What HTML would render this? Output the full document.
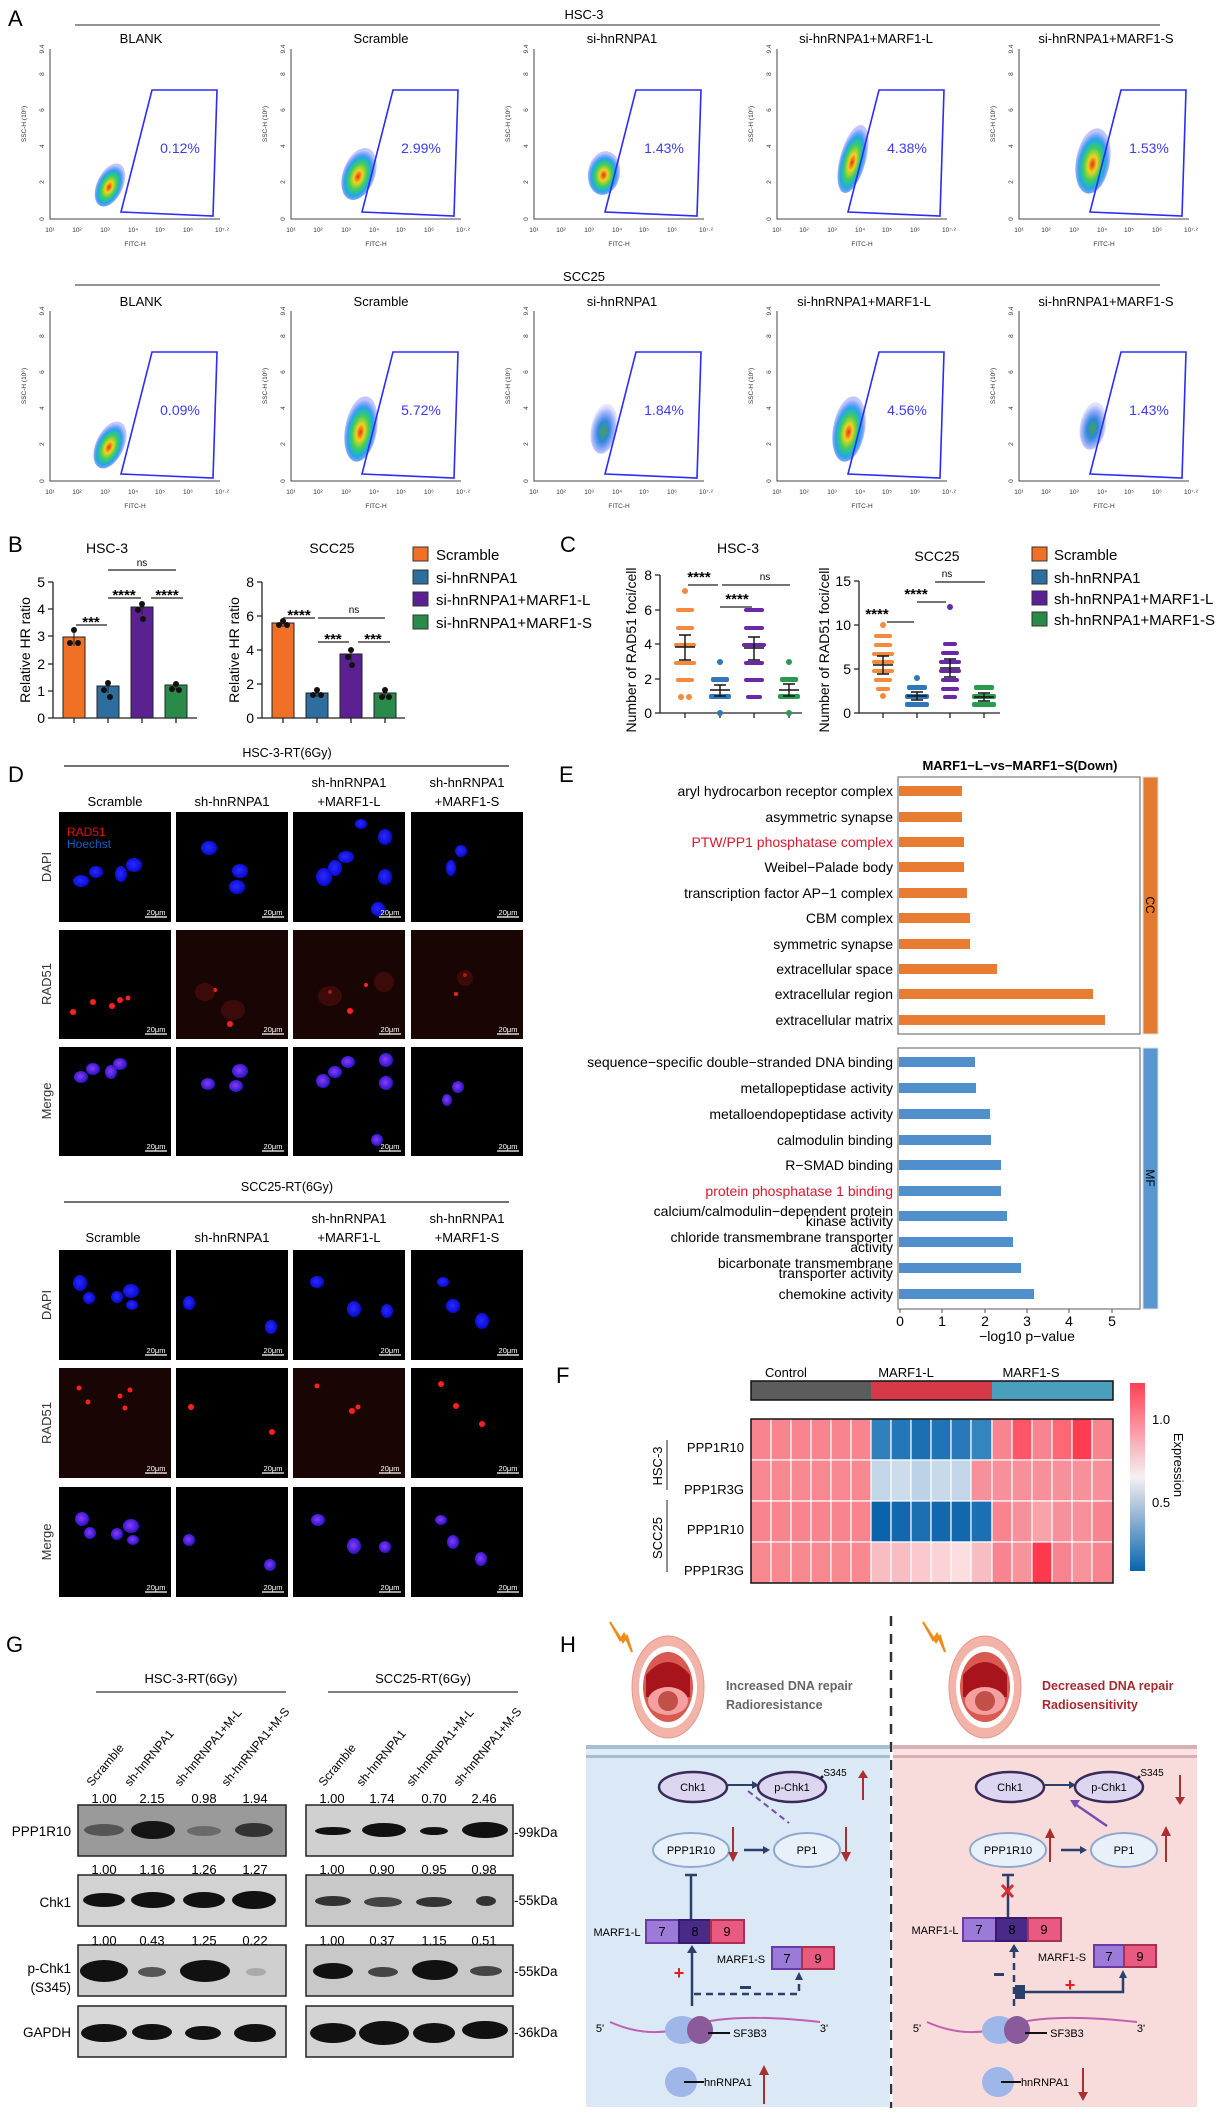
<!DOCTYPE html>
<html><head><meta charset="utf-8"><style>
html,body{margin:0;padding:0;background:#fff}
svg{display:block;font-family:"Liberation Sans",Arial,sans-serif}
</style></head><body>
<svg width="1223" height="2113" viewBox="0 0 1223 2113" xmlns="http://www.w3.org/2000/svg">
<defs>
<radialGradient id="blob" cx="50%" cy="55%" r="50%">
<stop offset="0" stop-color="#e8301c"/><stop offset=".25" stop-color="#f2d21c"/><stop offset=".5" stop-color="#3fcf5a"/><stop offset=".75" stop-color="#1fa8e8"/><stop offset="1" stop-color="#3040ff" stop-opacity=".3"/>
</radialGradient>
<radialGradient id="blobs" cx="50%" cy="55%" r="50%">
<stop offset="0" stop-color="#4aa04a"/><stop offset=".4" stop-color="#2a8ad8"/><stop offset="1" stop-color="#3040ff" stop-opacity=".15"/>
</radialGradient>
<linearGradient id="cbar" x1="0" y1="0" x2="0" y2="1"><stop offset="0" stop-color="#ff4055"/><stop offset=".5" stop-color="#f6f0f2"/><stop offset="1" stop-color="#0a64ac"/></linearGradient>
<radialGradient id="nuc" cx="45%" cy="45%" r="55%"><stop offset="0" stop-color="#2a2aff"/><stop offset="1" stop-color="#0a0ad0"/></radialGradient>
<radialGradient id="mer" cx="45%" cy="45%" r="55%"><stop offset="0" stop-color="#8a3cff"/><stop offset="1" stop-color="#2a14c0"/></radialGradient>
</defs>

<!-- ===== A ===== -->
<text x="8" y="26" font-size="22">A</text>
<text x="584" y="19" font-size="13" text-anchor="middle">HSC-3</text>
<line x1="75" y1="25" x2="1160" y2="25" stroke="#555" stroke-width="1.3"/>
<text x="584" y="281" font-size="13" text-anchor="middle">SCC25</text>
<line x1="75" y1="285" x2="1160" y2="285" stroke="#555" stroke-width="1.3"/>

<g font-size="13" text-anchor="middle">
<text x="141" y="43">BLANK</text><text x="381" y="43">Scramble</text><text x="622" y="43">si-hnRNPA1</text><text x="866" y="43">si-hnRNPA1+MARF1-L</text><text x="1106" y="43">si-hnRNPA1+MARF1-S</text>
<text x="141" y="306">BLANK</text><text x="381" y="306">Scramble</text><text x="622" y="306">si-hnRNPA1</text><text x="864" y="306">si-hnRNPA1+MARF1-L</text><text x="1106" y="306">si-hnRNPA1+MARF1-S</text>
</g>

<g transform="translate(50,219)">
<path d="M0,-170V0H170" stroke="#444" fill="none" stroke-width="1"/>
<g font-size="6.5" fill="#333"><text transform="translate(-6,0) rotate(-90)" text-anchor="middle">0</text><text transform="translate(-6,-37) rotate(-90)" text-anchor="middle">2</text><text transform="translate(-6,-73) rotate(-90)" text-anchor="middle">4</text><text transform="translate(-6,-109) rotate(-90)" text-anchor="middle">6</text><text transform="translate(-6,-145) rotate(-90)" text-anchor="middle">8</text><text transform="translate(-6,-170) rotate(-90)" text-anchor="middle">9.4</text>
<text transform="translate(-24,-95) rotate(-90)" text-anchor="middle">SSC-H (10⁶)</text>
<text x="0" y="13" text-anchor="middle">10¹</text><text x="27" y="13" text-anchor="middle">10²</text><text x="55" y="13" text-anchor="middle">10³</text><text x="83" y="13" text-anchor="middle">10⁴</text><text x="110" y="13" text-anchor="middle">10⁵</text><text x="138" y="13" text-anchor="middle">10⁶</text><text x="172" y="13" text-anchor="middle">10⁷·²</text>
<text x="85" y="27" text-anchor="middle">FITC-H</text></g>
<g transform="translate(60,-34) rotate(25)"><ellipse rx="13" ry="23" fill="url(#blob)"/></g>
<path d="M102,-129H167L163,-3L71,-7Z" fill="none" stroke="#2b2bff" stroke-width="1.6"/>
<text x="130" y="-66" font-size="14" fill="#3b3bff" text-anchor="middle">0.12%</text>
</g>

<g transform="translate(291,219)">
<path d="M0,-170V0H170" stroke="#444" fill="none"/>
<g font-size="6.5" fill="#333"><text transform="translate(-6,0) rotate(-90)" text-anchor="middle">0</text><text transform="translate(-6,-37) rotate(-90)" text-anchor="middle">2</text><text transform="translate(-6,-73) rotate(-90)" text-anchor="middle">4</text><text transform="translate(-6,-109) rotate(-90)" text-anchor="middle">6</text><text transform="translate(-6,-145) rotate(-90)" text-anchor="middle">8</text><text transform="translate(-6,-170) rotate(-90)" text-anchor="middle">9.4</text>
<text transform="translate(-24,-95) rotate(-90)" text-anchor="middle">SSC-H (10⁶)</text>
<text x="0" y="13" text-anchor="middle">10¹</text><text x="27" y="13" text-anchor="middle">10²</text><text x="55" y="13" text-anchor="middle">10³</text><text x="83" y="13" text-anchor="middle">10⁴</text><text x="110" y="13" text-anchor="middle">10⁵</text><text x="138" y="13" text-anchor="middle">10⁶</text><text x="172" y="13" text-anchor="middle">10⁷·²</text>
<text x="85" y="27" text-anchor="middle">FITC-H</text></g>
<g transform="translate(68,-45) rotate(20)"><ellipse rx="16" ry="27" fill="url(#blob)"/></g>
<path d="M102,-129H167L163,-3L71,-7Z" fill="none" stroke="#2b2bff" stroke-width="1.6"/>
<text x="130" y="-66" font-size="14" fill="#3b3bff" text-anchor="middle">2.99%</text>
</g>

<g transform="translate(534,219)">
<path d="M0,-170V0H170" stroke="#444" fill="none"/>
<g font-size="6.5" fill="#333"><text transform="translate(-6,0) rotate(-90)" text-anchor="middle">0</text><text transform="translate(-6,-37) rotate(-90)" text-anchor="middle">2</text><text transform="translate(-6,-73) rotate(-90)" text-anchor="middle">4</text><text transform="translate(-6,-109) rotate(-90)" text-anchor="middle">6</text><text transform="translate(-6,-145) rotate(-90)" text-anchor="middle">8</text><text transform="translate(-6,-170) rotate(-90)" text-anchor="middle">9.4</text>
<text transform="translate(-24,-95) rotate(-90)" text-anchor="middle">SSC-H (10⁶)</text>
<text x="0" y="13" text-anchor="middle">10¹</text><text x="27" y="13" text-anchor="middle">10²</text><text x="55" y="13" text-anchor="middle">10³</text><text x="83" y="13" text-anchor="middle">10⁴</text><text x="110" y="13" text-anchor="middle">10⁵</text><text x="138" y="13" text-anchor="middle">10⁶</text><text x="172" y="13" text-anchor="middle">10⁷·²</text>
<text x="85" y="27" text-anchor="middle">FITC-H</text></g>
<g transform="translate(70,-46) rotate(10)"><ellipse rx="16" ry="22" fill="url(#blob)"/></g>
<path d="M102,-129H167L163,-3L71,-7Z" fill="none" stroke="#2b2bff" stroke-width="1.6"/>
<text x="130" y="-66" font-size="14" fill="#3b3bff" text-anchor="middle">1.43%</text>
</g>

<g transform="translate(777,219)">
<path d="M0,-170V0H170" stroke="#444" fill="none"/>
<g font-size="6.5" fill="#333"><text transform="translate(-6,0) rotate(-90)" text-anchor="middle">0</text><text transform="translate(-6,-37) rotate(-90)" text-anchor="middle">2</text><text transform="translate(-6,-73) rotate(-90)" text-anchor="middle">4</text><text transform="translate(-6,-109) rotate(-90)" text-anchor="middle">6</text><text transform="translate(-6,-145) rotate(-90)" text-anchor="middle">8</text><text transform="translate(-6,-170) rotate(-90)" text-anchor="middle">9.4</text>
<text transform="translate(-24,-95) rotate(-90)" text-anchor="middle">SSC-H (10⁶)</text>
<text x="0" y="13" text-anchor="middle">10¹</text><text x="27" y="13" text-anchor="middle">10²</text><text x="55" y="13" text-anchor="middle">10³</text><text x="83" y="13" text-anchor="middle">10⁴</text><text x="110" y="13" text-anchor="middle">10⁵</text><text x="138" y="13" text-anchor="middle">10⁶</text><text x="172" y="13" text-anchor="middle">10⁷·²</text>
<text x="85" y="27" text-anchor="middle">FITC-H</text></g>
<g transform="translate(76,-60) rotate(15)"><ellipse rx="13" ry="35" fill="url(#blob)"/></g>
<path d="M102,-129H167L163,-3L71,-7Z" fill="none" stroke="#2b2bff" stroke-width="1.6"/>
<text x="130" y="-66" font-size="14" fill="#3b3bff" text-anchor="middle">4.38%</text>
</g>

<g transform="translate(1019,219)">
<path d="M0,-170V0H170" stroke="#444" fill="none"/>
<g font-size="6.5" fill="#333"><text transform="translate(-6,0) rotate(-90)" text-anchor="middle">0</text><text transform="translate(-6,-37) rotate(-90)" text-anchor="middle">2</text><text transform="translate(-6,-73) rotate(-90)" text-anchor="middle">4</text><text transform="translate(-6,-109) rotate(-90)" text-anchor="middle">6</text><text transform="translate(-6,-145) rotate(-90)" text-anchor="middle">8</text><text transform="translate(-6,-170) rotate(-90)" text-anchor="middle">9.4</text>
<text transform="translate(-24,-95) rotate(-90)" text-anchor="middle">SSC-H (10⁶)</text>
<text x="0" y="13" text-anchor="middle">10¹</text><text x="27" y="13" text-anchor="middle">10²</text><text x="55" y="13" text-anchor="middle">10³</text><text x="83" y="13" text-anchor="middle">10⁴</text><text x="110" y="13" text-anchor="middle">10⁵</text><text x="138" y="13" text-anchor="middle">10⁶</text><text x="172" y="13" text-anchor="middle">10⁷·²</text>
<text x="85" y="27" text-anchor="middle">FITC-H</text></g>
<g transform="translate(74,-58) rotate(10)"><ellipse rx="17" ry="33" fill="url(#blob)"/></g>
<path d="M102,-129H167L163,-3L71,-7Z" fill="none" stroke="#2b2bff" stroke-width="1.6"/>
<text x="130" y="-66" font-size="14" fill="#3b3bff" text-anchor="middle">1.53%</text>
</g>

<g transform="translate(50,481)">
<path d="M0,-170V0H170" stroke="#444" fill="none"/>
<g font-size="6.5" fill="#333"><text transform="translate(-6,0) rotate(-90)" text-anchor="middle">0</text><text transform="translate(-6,-37) rotate(-90)" text-anchor="middle">2</text><text transform="translate(-6,-73) rotate(-90)" text-anchor="middle">4</text><text transform="translate(-6,-109) rotate(-90)" text-anchor="middle">6</text><text transform="translate(-6,-145) rotate(-90)" text-anchor="middle">8</text><text transform="translate(-6,-170) rotate(-90)" text-anchor="middle">9.4</text>
<text transform="translate(-24,-95) rotate(-90)" text-anchor="middle">SSC-H (10⁶)</text>
<text x="0" y="13" text-anchor="middle">10¹</text><text x="27" y="13" text-anchor="middle">10²</text><text x="55" y="13" text-anchor="middle">10³</text><text x="83" y="13" text-anchor="middle">10⁴</text><text x="110" y="13" text-anchor="middle">10⁵</text><text x="138" y="13" text-anchor="middle">10⁶</text><text x="172" y="13" text-anchor="middle">10⁷·²</text>
<text x="85" y="27" text-anchor="middle">FITC-H</text></g>
<g transform="translate(60,-36) rotate(25)"><ellipse rx="14" ry="25" fill="url(#blob)"/></g>
<path d="M102,-129H167L163,-3L71,-7Z" fill="none" stroke="#2b2bff" stroke-width="1.6"/>
<text x="130" y="-66" font-size="14" fill="#3b3bff" text-anchor="middle">0.09%</text>
</g>

<g transform="translate(291,481)">
<path d="M0,-170V0H170" stroke="#444" fill="none"/>
<g font-size="6.5" fill="#333"><text transform="translate(-6,0) rotate(-90)" text-anchor="middle">0</text><text transform="translate(-6,-37) rotate(-90)" text-anchor="middle">2</text><text transform="translate(-6,-73) rotate(-90)" text-anchor="middle">4</text><text transform="translate(-6,-109) rotate(-90)" text-anchor="middle">6</text><text transform="translate(-6,-145) rotate(-90)" text-anchor="middle">8</text><text transform="translate(-6,-170) rotate(-90)" text-anchor="middle">9.4</text>
<text transform="translate(-24,-95) rotate(-90)" text-anchor="middle">SSC-H (10⁶)</text>
<text x="0" y="13" text-anchor="middle">10¹</text><text x="27" y="13" text-anchor="middle">10²</text><text x="55" y="13" text-anchor="middle">10³</text><text x="83" y="13" text-anchor="middle">10⁴</text><text x="110" y="13" text-anchor="middle">10⁵</text><text x="138" y="13" text-anchor="middle">10⁶</text><text x="172" y="13" text-anchor="middle">10⁷·²</text>
<text x="85" y="27" text-anchor="middle">FITC-H</text></g>
<g transform="translate(70,-52) rotate(10)"><ellipse rx="16" ry="33" fill="url(#blob)"/></g>
<path d="M102,-129H167L163,-3L71,-7Z" fill="none" stroke="#2b2bff" stroke-width="1.6"/>
<text x="130" y="-66" font-size="14" fill="#3b3bff" text-anchor="middle">5.72%</text>
</g>

<g transform="translate(534,481)">
<path d="M0,-170V0H170" stroke="#444" fill="none"/>
<g font-size="6.5" fill="#333"><text transform="translate(-6,0) rotate(-90)" text-anchor="middle">0</text><text transform="translate(-6,-37) rotate(-90)" text-anchor="middle">2</text><text transform="translate(-6,-73) rotate(-90)" text-anchor="middle">4</text><text transform="translate(-6,-109) rotate(-90)" text-anchor="middle">6</text><text transform="translate(-6,-145) rotate(-90)" text-anchor="middle">8</text><text transform="translate(-6,-170) rotate(-90)" text-anchor="middle">9.4</text>
<text transform="translate(-24,-95) rotate(-90)" text-anchor="middle">SSC-H (10⁶)</text>
<text x="0" y="13" text-anchor="middle">10¹</text><text x="27" y="13" text-anchor="middle">10²</text><text x="55" y="13" text-anchor="middle">10³</text><text x="83" y="13" text-anchor="middle">10⁴</text><text x="110" y="13" text-anchor="middle">10⁵</text><text x="138" y="13" text-anchor="middle">10⁶</text><text x="172" y="13" text-anchor="middle">10⁷·²</text>
<text x="85" y="27" text-anchor="middle">FITC-H</text></g>
<g transform="translate(70,-52) rotate(10)"><ellipse rx="13" ry="25" fill="url(#blobs)"/></g>
<path d="M102,-129H167L163,-3L71,-7Z" fill="none" stroke="#2b2bff" stroke-width="1.6"/>
<text x="130" y="-66" font-size="14" fill="#3b3bff" text-anchor="middle">1.84%</text>
</g>

<g transform="translate(777,481)">
<path d="M0,-170V0H170" stroke="#444" fill="none"/>
<g font-size="6.5" fill="#333"><text transform="translate(-6,0) rotate(-90)" text-anchor="middle">0</text><text transform="translate(-6,-37) rotate(-90)" text-anchor="middle">2</text><text transform="translate(-6,-73) rotate(-90)" text-anchor="middle">4</text><text transform="translate(-6,-109) rotate(-90)" text-anchor="middle">6</text><text transform="translate(-6,-145) rotate(-90)" text-anchor="middle">8</text><text transform="translate(-6,-170) rotate(-90)" text-anchor="middle">9.4</text>
<text transform="translate(-24,-95) rotate(-90)" text-anchor="middle">SSC-H (10⁶)</text>
<text x="0" y="13" text-anchor="middle">10¹</text><text x="27" y="13" text-anchor="middle">10²</text><text x="55" y="13" text-anchor="middle">10³</text><text x="83" y="13" text-anchor="middle">10⁴</text><text x="110" y="13" text-anchor="middle">10⁵</text><text x="138" y="13" text-anchor="middle">10⁶</text><text x="172" y="13" text-anchor="middle">10⁷·²</text>
<text x="85" y="27" text-anchor="middle">FITC-H</text></g>
<g transform="translate(72,-52) rotate(10)"><ellipse rx="16" ry="33" fill="url(#blob)"/></g>
<path d="M102,-129H167L163,-3L71,-7Z" fill="none" stroke="#2b2bff" stroke-width="1.6"/>
<text x="130" y="-66" font-size="14" fill="#3b3bff" text-anchor="middle">4.56%</text>
</g>

<g transform="translate(1019,481)">
<path d="M0,-170V0H170" stroke="#444" fill="none"/>
<g font-size="6.5" fill="#333"><text transform="translate(-6,0) rotate(-90)" text-anchor="middle">0</text><text transform="translate(-6,-37) rotate(-90)" text-anchor="middle">2</text><text transform="translate(-6,-73) rotate(-90)" text-anchor="middle">4</text><text transform="translate(-6,-109) rotate(-90)" text-anchor="middle">6</text><text transform="translate(-6,-145) rotate(-90)" text-anchor="middle">8</text><text transform="translate(-6,-170) rotate(-90)" text-anchor="middle">9.4</text>
<text transform="translate(-24,-95) rotate(-90)" text-anchor="middle">SSC-H (10⁶)</text>
<text x="0" y="13" text-anchor="middle">10¹</text><text x="27" y="13" text-anchor="middle">10²</text><text x="55" y="13" text-anchor="middle">10³</text><text x="83" y="13" text-anchor="middle">10⁴</text><text x="110" y="13" text-anchor="middle">10⁵</text><text x="138" y="13" text-anchor="middle">10⁶</text><text x="172" y="13" text-anchor="middle">10⁷·²</text>
<text x="85" y="27" text-anchor="middle">FITC-H</text></g>
<g transform="translate(74,-55) rotate(10)"><ellipse rx="13" ry="24" fill="url(#blobs)"/></g>
<path d="M102,-129H167L163,-3L71,-7Z" fill="none" stroke="#2b2bff" stroke-width="1.6"/>
<text x="130" y="-66" font-size="14" fill="#3b3bff" text-anchor="middle">1.43%</text>
</g>

<!-- ===== B ===== -->
<text x="8" y="552" font-size="22">B</text>
<text x="107" y="553" font-size="14" text-anchor="middle">HSC-3</text>
<text x="332" y="553" font-size="14" text-anchor="middle">SCC25</text>
<g stroke="#222" stroke-width="1.3" fill="none">
<path d="M53,582V718H197"/><path d="M48,582H53M48,609H53M48,636H53M48,664H53M48,691H53M48,718H53"/>
<path d="M74,718V723M108,718V723M142,718V723M176,718V723"/>
<path d="M262,582V718H405"/><path d="M257,582H262M257,616H262M257,650H262M257,684H262M257,718H262"/>
<path d="M283,718V723M317,718V723M351,718V723M385,718V723"/>
</g>
<g font-size="14" text-anchor="end"><text x="45" y="723">0</text><text x="45" y="696">1</text><text x="45" y="669">2</text><text x="45" y="641">3</text><text x="45" y="614">4</text><text x="45" y="587">5</text>
<text x="254" y="723">0</text><text x="254" y="689">2</text><text x="254" y="655">4</text><text x="254" y="621">6</text><text x="254" y="587">8</text></g>
<text transform="translate(30,650) rotate(-90)" font-size="14" text-anchor="middle">Relative HR ratio</text>
<text transform="translate(239,650) rotate(-90)" font-size="14" text-anchor="middle">Relative HR ratio</text>
<g stroke="#222" stroke-width="1">
<rect x="63" y="637" width="22" height="81" fill="#f07025"/><rect x="97" y="686" width="22" height="32" fill="#2e6e9e"/><rect x="131" y="607" width="22" height="111" fill="#5b2091"/><rect x="165" y="685" width="22" height="33" fill="#2a8a4a"/>
<rect x="272" y="623" width="22" height="95" fill="#f07025"/><rect x="306" y="693" width="22" height="25" fill="#2e6e9e"/><rect x="340" y="654" width="22" height="64" fill="#5b2091"/><rect x="374" y="693" width="22" height="25" fill="#2a8a4a"/>
<path d="M74,628V646M108,681V693M142,602V614M176,682V690M283,620V627M317,689V697M351,648V661M385,690V697" fill="none"/>
</g>
<g fill="#111"><circle cx="74" cy="630" r="3"/><circle cx="70" cy="643" r="3"/><circle cx="78" cy="643" r="3"/><circle cx="108" cy="683" r="3"/><circle cx="104" cy="690" r="3"/><circle cx="110" cy="697" r="3"/><circle cx="142" cy="604" r="3"/><circle cx="138" cy="610" r="3"/><circle cx="143" cy="619" r="3"/><circle cx="176" cy="684" r="3"/><circle cx="172" cy="689" r="3"/><circle cx="179" cy="690" r="3"/>
<circle cx="283" cy="621" r="3"/><circle cx="279" cy="625" r="3"/><circle cx="287" cy="625" r="3"/><circle cx="317" cy="690" r="3"/><circle cx="313" cy="695" r="3"/><circle cx="321" cy="695" r="3"/><circle cx="351" cy="650" r="3"/><circle cx="348" cy="657" r="3"/><circle cx="352" cy="665" r="3"/><circle cx="385" cy="690" r="3"/><circle cx="382" cy="697" r="3"/><circle cx="389" cy="697" r="3"/></g>
<g stroke="#222" stroke-width="1.2"><line x1="76" y1="625" x2="107" y2="625"/><line x1="108" y1="598" x2="141" y2="598"/><line x1="151" y1="598" x2="183" y2="598"/><line x1="108" y1="570" x2="176" y2="570"/>
<line x1="283" y1="618" x2="315" y2="618"/><line x1="318" y1="618" x2="385" y2="618"/><line x1="318" y1="642" x2="349" y2="642"/><line x1="358" y1="642" x2="390" y2="642"/></g>
<g font-size="15" text-anchor="middle" font-weight="bold"><text x="91" y="627">***</text><text x="124" y="600">****</text><text x="167" y="600">****</text><text x="299" y="620">****</text><text x="333" y="644">***</text><text x="373" y="644">***</text></g>
<g font-size="10" text-anchor="middle"><text x="142" y="566">ns</text><text x="354" y="613">ns</text></g>
<g stroke="#333" stroke-width="1"><rect x="413" y="547" width="15" height="14" fill="#f07025"/><rect x="413" y="570" width="15" height="14" fill="#2e6e9e"/><rect x="413" y="592" width="15" height="14" fill="#5b2091"/><rect x="413" y="615" width="15" height="14" fill="#2a8a4a"/></g>
<g font-size="15"><text x="436" y="560">Scramble</text><text x="436" y="583">si-hnRNPA1</text><text x="436" y="605">si-hnRNPA1+MARF1-L</text><text x="436" y="628">si-hnRNPA1+MARF1-S</text></g>

<!-- ===== C ===== -->
<text x="560" y="552" font-size="22">C</text>
<text x="738" y="553" font-size="14" text-anchor="middle">HSC-3</text>
<text x="937" y="561" font-size="14" text-anchor="middle">SCC25</text>
<g stroke="#222" stroke-width="1.3" fill="none">
<path d="M660,575V713H802"/><path d="M655,575H660M655,610H660M655,644H660M655,679H660M655,713H660"/>
<path d="M685,713V718M720,713V718M754,713V718M789,713V718"/>
<path d="M859,581V713H1000"/><path d="M854,581H859M854,625H859M854,669H859M854,713H859"/>
<path d="M883,713V718M917,713V718M950,713V718M984,713V718"/>
</g>
<g font-size="14" text-anchor="end"><text x="652" y="718">0</text><text x="652" y="684">2</text><text x="652" y="649">4</text><text x="652" y="615">6</text><text x="652" y="580">8</text>
<text x="851" y="718">0</text><text x="851" y="674">5</text><text x="851" y="630">10</text><text x="851" y="586">15</text></g>
<text transform="translate(636,650) rotate(-90)" font-size="14" text-anchor="middle">Number of RAD51 foci/cell</text>
<text transform="translate(829,650) rotate(-90)" font-size="14" text-anchor="middle">Number of RAD51 foci/cell</text>
<g fill="#f58a3c"><rect x="676" y="608" width="18" height="4" rx="2"/><rect x="676" y="626" width="18" height="4" rx="2"/><rect x="674" y="643" width="22" height="4" rx="2"/><rect x="674" y="661" width="22" height="4" rx="2"/><rect x="676" y="678" width="18" height="4" rx="2"/><circle cx="681" cy="697" r="3"/><circle cx="689" cy="697" r="3"/><circle cx="685" cy="591" r="3"/></g>
<g fill="#2f78b8"><circle cx="720" cy="662" r="3"/><rect x="711" y="677" width="18" height="5" rx="2"/><rect x="709" y="694" width="22" height="5" rx="2"/><circle cx="720" cy="713" r="3"/></g>
<g fill="#6a2aa8"><rect x="744" y="608" width="20" height="4" rx="2"/><rect x="744" y="626" width="20" height="4" rx="2"/><rect x="742" y="643" width="24" height="4" rx="2"/><rect x="744" y="661" width="20" height="4" rx="2"/><rect x="744" y="678" width="20" height="4" rx="2"/><rect x="746" y="695" width="16" height="4" rx="2"/></g>
<g fill="#2a9a50"><circle cx="789" cy="662" r="3"/><rect x="780" y="677" width="18" height="5" rx="2"/><rect x="778" y="694" width="22" height="5" rx="2"/><circle cx="789" cy="713" r="3"/></g>
<g stroke="#111" stroke-width="1.4" fill="none"><path d="M675,647H695M679,635H691M679,660H691M685,635V660"/><path d="M710,690H730M714,685H726M714,696H726M720,685V696"/><path d="M744,648H764M748,637H760M748,660H760M754,637V660"/><path d="M779,690H799M783,684H795M783,696H795M789,684V696"/></g>
<g stroke="#222" stroke-width="1.2"><line x1="688" y1="585" x2="718" y2="585"/><line x1="722" y1="585" x2="790" y2="585"/><line x1="720" y1="607" x2="752" y2="607"/></g>
<g font-size="15" font-weight="bold" text-anchor="middle"><text x="699" y="582">****</text><text x="737" y="604">****</text></g>
<text x="765" y="580" font-size="10" text-anchor="middle">ns</text>
<g fill="#f58a3c"><circle cx="883" cy="625" r="3"/><rect x="874" y="634" width="18" height="4" rx="2"/><rect x="874" y="643" width="18" height="4" rx="2"/><rect x="872" y="652" width="22" height="4" rx="2"/><rect x="872" y="660" width="22" height="4" rx="2"/><rect x="872" y="669" width="22" height="4" rx="2"/><rect x="874" y="678" width="18" height="4" rx="2"/><rect x="876" y="687" width="14" height="4" rx="2"/><circle cx="883" cy="696" r="3"/></g>
<g fill="#2f78b8"><circle cx="917" cy="678" r="3"/><rect x="907" y="685" width="20" height="5" rx="2"/><rect x="905" y="694" width="24" height="5" rx="2"/><rect x="905" y="702" width="24" height="5" rx="2"/></g>
<g fill="#6a2aa8"><circle cx="950" cy="607" r="3"/><rect x="943" y="642" width="14" height="4" rx="2"/><rect x="941" y="651" width="18" height="4" rx="2"/><rect x="939" y="660" width="22" height="4" rx="2"/><rect x="939" y="669" width="22" height="4" rx="2"/><rect x="941" y="678" width="18" height="4" rx="2"/><rect x="941" y="687" width="18" height="4" rx="2"/><rect x="943" y="695" width="14" height="4" rx="2"/></g>
<g fill="#2a9a50"><rect x="974" y="685" width="20" height="5" rx="2"/><rect x="972" y="694" width="24" height="5" rx="2"/><rect x="972" y="702" width="24" height="5" rx="2"/></g>
<g stroke="#111" stroke-width="1.4" fill="none"><path d="M873,665H893M877,656H889M877,674H889M883,656V674"/><path d="M907,696H927M911,692H923M911,700H923M917,692V700"/><path d="M940,668H960M944,659H956M944,677H956M950,659V677"/><path d="M974,697H994M978,693H990M978,701H990M984,693V701"/></g>
<g stroke="#222" stroke-width="1.2"><line x1="887" y1="622" x2="914" y2="622"/><line x1="917" y1="602" x2="946" y2="602"/><line x1="935" y1="582" x2="985" y2="582"/></g>
<g font-size="15" font-weight="bold" text-anchor="middle"><text x="877" y="619">****</text><text x="916" y="599">****</text></g>
<text x="947" y="577" font-size="10" text-anchor="middle">ns</text>
<g stroke="#333"><rect x="1032" y="547" width="15" height="14" fill="#f07025"/><rect x="1032" y="570" width="15" height="14" fill="#2e6e9e"/><rect x="1032" y="591" width="15" height="14" fill="#5b2091"/><rect x="1032" y="612" width="15" height="14" fill="#2a8a4a"/></g>
<g font-size="15"><text x="1054" y="560">Scramble</text><text x="1054" y="583">sh-hnRNPA1</text><text x="1054" y="604">sh-hnRNPA1+MARF1-L</text><text x="1054" y="625">sh-hnRNPA1+MARF1-S</text></g>

<!-- ===== D ===== -->
<text x="8" y="782" font-size="22">D</text>
<text x="287" y="757" font-size="12.5" text-anchor="middle">HSC-3-RT(6Gy)</text>
<line x1="64" y1="766" x2="509" y2="766" stroke="#444" stroke-width="1.5"/>
<g font-size="13" text-anchor="middle"><text x="115" y="806">Scramble</text><text x="232" y="806">sh-hnRNPA1</text><text x="349" y="787">sh-hnRNPA1</text><text x="349" y="806">+MARF1-L</text><text x="467" y="787">sh-hnRNPA1</text><text x="467" y="806">+MARF1-S</text></g>
<g fill="#000"><rect x="59" y="812" width="112" height="110"/><rect x="176" y="812" width="112" height="110"/><rect x="293" y="812" width="112" height="110"/><rect x="411" y="812" width="112" height="110"/>
<rect x="59" y="930" width="112" height="109"/><rect x="176" y="930" width="112" height="109"/><rect x="293" y="930" width="112" height="109"/><rect x="411" y="930" width="112" height="109"/>
<rect x="59" y="1047" width="112" height="109"/><rect x="176" y="1047" width="112" height="109"/><rect x="293" y="1047" width="112" height="109"/><rect x="411" y="1047" width="112" height="109"/></g>
<g fill="#1a0505"><rect x="176" y="930" width="112" height="109"/><rect x="293" y="930" width="112" height="109"/><rect x="411" y="930" width="112" height="109"/></g>
<text x="67" y="836" font-size="12" fill="#e01010">RAD51</text><text x="67" y="848" font-size="12" fill="#1060c0">Hoechst</text>
<g font-size="13" text-anchor="middle" fill="#333"><text transform="translate(51,867) rotate(-90)">DAPI</text><text transform="translate(51,984) rotate(-90)">RAD51</text><text transform="translate(51,1101) rotate(-90)">Merge</text></g>
<g fill="url(#nuc)"><ellipse cx="81" cy="881" rx="8" ry="6"/><ellipse cx="96" cy="872" rx="7" ry="6"/><ellipse cx="121" cy="874" rx="6" ry="8"/><ellipse cx="134" cy="865" rx="8" ry="7"/>
<ellipse cx="209" cy="848" rx="8" ry="7"/><ellipse cx="240" cy="871" rx="8" ry="7"/><ellipse cx="237" cy="887" rx="8" ry="7"/>
<ellipse cx="324" cy="877" rx="8" ry="9"/><ellipse cx="335" cy="868" rx="7" ry="8"/><ellipse cx="346" cy="857" rx="8" ry="6"/><ellipse cx="385" cy="837" rx="7" ry="8"/><ellipse cx="385" cy="877" rx="7" ry="8"/><ellipse cx="378" cy="909" rx="7" ry="7"/><ellipse cx="361" cy="824" rx="6" ry="5"/>
<ellipse cx="461" cy="851" rx="6" ry="6"/><ellipse cx="451" cy="868" rx="5" ry="8"/></g>
<g fill="#ff2020"><circle cx="73" cy="1012" r="3"/><circle cx="93" cy="1002" r="3"/><circle cx="112" cy="1006" r="3"/><circle cx="120" cy="1000" r="3"/><circle cx="128" cy="998" r="2.5"/><circle cx="230" cy="1024" r="3"/><circle cx="215" cy="990" r="2"/><circle cx="350" cy="1011" r="3"/><circle cx="366" cy="985" r="2"/><circle cx="330" cy="992" r="2"/><circle cx="465" cy="975" r="2"/><circle cx="456" cy="994" r="2"/></g>
<g fill="#601010" opacity=".5"><ellipse cx="205" cy="992" rx="10" ry="9"/><ellipse cx="233" cy="1010" rx="12" ry="10"/><ellipse cx="330" cy="996" rx="12" ry="10"/><ellipse cx="384" cy="982" rx="10" ry="10"/><ellipse cx="465" cy="978" rx="8" ry="8"/></g>
<g fill="url(#mer)"><ellipse cx="81" cy="1077" rx="7" ry="6"/><ellipse cx="93" cy="1069" rx="7" ry="6"/><ellipse cx="111" cy="1072" rx="6" ry="7"/><ellipse cx="120" cy="1064" rx="7" ry="6"/>
<ellipse cx="208" cy="1084" rx="7" ry="6"/><ellipse cx="240" cy="1071" rx="8" ry="7"/><ellipse cx="236" cy="1086" rx="7" ry="6"/>
<ellipse cx="323" cy="1081" rx="7" ry="7"/><ellipse cx="335" cy="1072" rx="7" ry="6"/><ellipse cx="348" cy="1062" rx="7" ry="6"/><ellipse cx="386" cy="1060" rx="7" ry="7"/><ellipse cx="386" cy="1083" rx="7" ry="7"/><ellipse cx="377" cy="1140" rx="6" ry="6"/>
<ellipse cx="458" cy="1087" rx="6" ry="6"/><ellipse cx="447" cy="1100" rx="5" ry="6"/></g>

<text x="287" y="1191" font-size="12.5" text-anchor="middle">SCC25-RT(6Gy)</text>
<line x1="64" y1="1202" x2="509" y2="1202" stroke="#444" stroke-width="1.5"/>
<g font-size="13" text-anchor="middle"><text x="113" y="1242">Scramble</text><text x="232" y="1242">sh-hnRNPA1</text><text x="349" y="1223">sh-hnRNPA1</text><text x="349" y="1242">+MARF1-L</text><text x="467" y="1223">sh-hnRNPA1</text><text x="467" y="1242">+MARF1-S</text></g>
<g fill="#000"><rect x="59" y="1250" width="112" height="110"/><rect x="176" y="1250" width="112" height="110"/><rect x="293" y="1250" width="112" height="110"/><rect x="411" y="1250" width="112" height="110"/>
<rect x="59" y="1368" width="112" height="110"/><rect x="176" y="1368" width="112" height="110"/><rect x="293" y="1368" width="112" height="110"/><rect x="411" y="1368" width="112" height="110"/>
<rect x="59" y="1487" width="112" height="110"/><rect x="176" y="1487" width="112" height="110"/><rect x="293" y="1487" width="112" height="110"/><rect x="411" y="1487" width="112" height="110"/></g>
<g fill="#1a0505"><rect x="59" y="1368" width="112" height="110"/><rect x="293" y="1368" width="112" height="110"/></g>
<g font-size="13" text-anchor="middle" fill="#333"><text transform="translate(51,1305) rotate(-90)">DAPI</text><text transform="translate(51,1423) rotate(-90)">RAD51</text><text transform="translate(51,1542) rotate(-90)">Merge</text></g>
<g fill="url(#nuc)"><ellipse cx="80" cy="1283" rx="7" ry="8"/><ellipse cx="89" cy="1298" rx="6" ry="6"/><ellipse cx="117" cy="1297" rx="6" ry="6"/><ellipse cx="131" cy="1291" rx="8" ry="7"/><ellipse cx="132" cy="1305" rx="6" ry="5"/>
<ellipse cx="189" cy="1303" rx="6" ry="7"/><ellipse cx="271" cy="1327" rx="6" ry="7"/>
<ellipse cx="317" cy="1282" rx="7" ry="6"/><ellipse cx="354" cy="1309" rx="7" ry="8"/><ellipse cx="387" cy="1311" rx="6" ry="7"/>
<ellipse cx="443" cy="1282" rx="6" ry="5"/><ellipse cx="453" cy="1306" rx="7" ry="7"/><ellipse cx="482" cy="1321" rx="7" ry="8"/></g>
<g fill="#ff2020"><circle cx="79" cy="1388" r="2.5"/><circle cx="88" cy="1402" r="2.5"/><circle cx="120" cy="1396" r="2.5"/><circle cx="130" cy="1390" r="2.5"/><circle cx="125" cy="1408" r="2.5"/><circle cx="191" cy="1407" r="3"/><circle cx="272" cy="1432" r="3"/><circle cx="317" cy="1386" r="2.5"/><circle cx="352" cy="1411" r="3"/><circle cx="358" cy="1407" r="2.5"/><circle cx="441" cy="1384" r="3"/><circle cx="456" cy="1406" r="3"/><circle cx="482" cy="1424" r="3"/></g>
<g fill="url(#mer)"><ellipse cx="82" cy="1519" rx="7" ry="7"/><ellipse cx="90" cy="1533" rx="6" ry="6"/><ellipse cx="117" cy="1534" rx="6" ry="6"/><ellipse cx="131" cy="1526" rx="8" ry="7"/><ellipse cx="133" cy="1540" rx="6" ry="5"/>
<ellipse cx="189" cy="1540" rx="6" ry="6"/><ellipse cx="270" cy="1565" rx="6" ry="6"/>
<ellipse cx="318" cy="1520" rx="7" ry="6"/><ellipse cx="354" cy="1546" rx="7" ry="8"/><ellipse cx="385" cy="1547" rx="6" ry="6"/>
<ellipse cx="441" cy="1520" rx="6" ry="5"/><ellipse cx="453" cy="1542" rx="6" ry="7"/><ellipse cx="481" cy="1559" rx="6" ry="7"/></g>
<g fill="#fff" font-size="7.5" text-anchor="middle">
<text x="156" y="915">20μm</text><text x="273" y="915">20μm</text><text x="390" y="915">20μm</text><text x="508" y="915">20μm</text>
<text x="156" y="1032">20μm</text><text x="273" y="1032">20μm</text><text x="390" y="1032">20μm</text><text x="508" y="1032">20μm</text>
<text x="156" y="1149">20μm</text><text x="273" y="1149">20μm</text><text x="390" y="1149">20μm</text><text x="508" y="1149">20μm</text>
<text x="156" y="1353">20μm</text><text x="273" y="1353">20μm</text><text x="390" y="1353">20μm</text><text x="508" y="1353">20μm</text>
<text x="156" y="1471">20μm</text><text x="273" y="1471">20μm</text><text x="390" y="1471">20μm</text><text x="508" y="1471">20μm</text>
<text x="156" y="1590">20μm</text><text x="273" y="1590">20μm</text><text x="390" y="1590">20μm</text><text x="508" y="1590">20μm</text></g>
<g stroke="#fff" stroke-width="1.2">
<path d="M145,917H167M262,917H284M379,917H401M497,917H519M145,1034H167M262,1034H284M379,1034H401M497,1034H519M145,1151H167M262,1151H284M379,1151H401M497,1151H519M145,1355H167M262,1355H284M379,1355H401M497,1355H519M145,1473H167M262,1473H284M379,1473H401M497,1473H519M145,1592H167M262,1592H284M379,1592H401M497,1592H519"/></g>

<!-- ===== E ===== -->
<text x="559" y="782" font-size="22">E</text>
<text x="1020" y="770" font-size="13" font-weight="bold" text-anchor="middle">MARF1−L−vs−MARF1−S(Down)</text>
<rect x="898" y="777" width="242" height="257" fill="none" stroke="#777" stroke-width="1.2"/>
<rect x="1143" y="777" width="15" height="257" fill="#e27b30" stroke="#ddd"/>
<text transform="translate(1146,905) rotate(90)" font-size="12" text-anchor="middle">CC</text>
<g fill="#e87c32"><rect x="899" y="786" width="63" height="10"/><rect x="899" y="812" width="63" height="10"/><rect x="899" y="837" width="65" height="10"/><rect x="899" y="862" width="65" height="10"/><rect x="899" y="888" width="68" height="10"/><rect x="899" y="913" width="71" height="10"/><rect x="899" y="939" width="71" height="10"/><rect x="899" y="964" width="98" height="10"/><rect x="899" y="989" width="194" height="10"/><rect x="899" y="1015" width="206" height="10"/></g>
<g font-size="14" text-anchor="end"><text x="893" y="796">aryl hydrocarbon receptor complex</text><text x="893" y="822">asymmetric synapse</text><text x="893" y="847" fill="#d8182c">PTW/PP1 phosphatase complex</text><text x="893" y="872">Weibel−Palade body</text><text x="893" y="898">transcription factor AP−1 complex</text><text x="893" y="923">CBM complex</text><text x="893" y="949">symmetric synapse</text><text x="893" y="974">extracellular space</text><text x="893" y="999">extracellular region</text><text x="893" y="1025">extracellular matrix</text></g>
<rect x="898" y="1048" width="242" height="261" fill="none" stroke="#777" stroke-width="1.2"/>
<rect x="1143" y="1048" width="15" height="261" fill="#5a96d0" stroke="#ddd"/>
<text transform="translate(1146,1178) rotate(90)" font-size="12" text-anchor="middle">MF</text>
<g fill="#4f8fcc"><rect x="899" y="1057" width="76" height="10"/><rect x="899" y="1083" width="77" height="10"/><rect x="899" y="1109" width="91" height="10"/><rect x="899" y="1135" width="92" height="10"/><rect x="899" y="1160" width="102" height="10"/><rect x="899" y="1186" width="102" height="10"/><rect x="899" y="1211" width="108" height="10"/><rect x="899" y="1237" width="114" height="10"/><rect x="899" y="1263" width="122" height="10"/><rect x="899" y="1289" width="135" height="10"/></g>
<g font-size="14" text-anchor="end"><text x="893" y="1067">sequence−specific double−stranded DNA binding</text><text x="893" y="1093">metallopeptidase activity</text><text x="893" y="1119">metalloendopeptidase activity</text><text x="893" y="1145">calmodulin binding</text><text x="893" y="1170">R−SMAD binding</text><text x="893" y="1196" fill="#d8182c">protein phosphatase 1 binding</text><text x="893" y="1216">calcium/calmodulin−dependent protein</text><text x="893" y="1226">kinase activity</text><text x="893" y="1242">chloride transmembrane transporter</text><text x="893" y="1252">activity</text><text x="893" y="1268">bicarbonate transmembrane</text><text x="893" y="1278">transporter activity</text><text x="893" y="1299">chemokine activity</text></g>
<g stroke="#555"><path d="M900,1309V1313M942,1309V1313M985,1309V1313M1027,1309V1313M1069,1309V1313M1112,1309V1313"/></g>
<g font-size="14" text-anchor="middle"><text x="900" y="1326">0</text><text x="942" y="1326">1</text><text x="985" y="1326">2</text><text x="1027" y="1326">3</text><text x="1069" y="1326">4</text><text x="1112" y="1326">5</text><text x="1027" y="1341">−log10 p−value</text></g>

<!-- ===== F ===== -->
<text x="556" y="1383" font-size="22">F</text>
<g font-size="13" text-anchor="middle"><text x="786" y="1377">Control</text><text x="906" y="1377">MARF1-L</text><text x="1031" y="1377">MARF1-S</text></g>
<rect x="751" y="1381" width="120" height="19" fill="#5c5c5c"/><rect x="871" y="1381" width="121" height="19" fill="#d63a48"/><rect x="992" y="1381" width="121" height="19" fill="#4a9fbd"/>
<rect x="751" y="1381" width="362" height="19" fill="none" stroke="#111" stroke-width="1.5"/>
<g stroke="#fff" stroke-width="1.2">
<g fill="#f7848f"><rect x="751" y="1419" width="20" height="41"/><rect x="771" y="1419" width="20" height="41"/><rect x="791" y="1419" width="20" height="41"/><rect x="811" y="1419" width="20" height="41"/><rect x="831" y="1419" width="20" height="41"/><rect x="851" y="1419" width="20" height="41"/></g>
<rect x="871" y="1419" width="20" height="41" fill="#2f80bd"/><rect x="891" y="1419" width="20" height="41" fill="#2377b8"/><rect x="911" y="1419" width="20" height="41" fill="#1a70b3"/><rect x="931" y="1419" width="20" height="41" fill="#1f74b5"/><rect x="951" y="1419" width="20" height="41" fill="#2779b9"/><rect x="971" y="1419" width="21" height="41" fill="#3384bf"/>
<rect x="992" y="1419" width="20" height="41" fill="#f7848f"/><rect x="1012" y="1419" width="20" height="41" fill="#ff5566"/><rect x="1032" y="1419" width="20" height="41" fill="#f7848f"/><rect x="1052" y="1419" width="20" height="41" fill="#ff6676"/><rect x="1072" y="1419" width="20" height="41" fill="#ff3d50"/><rect x="1092" y="1419" width="21" height="41" fill="#f7848f"/>
<g fill="#f78891"><rect x="751" y="1460" width="20" height="41"/><rect x="771" y="1460" width="20" height="41"/><rect x="791" y="1460" width="20" height="41"/><rect x="811" y="1460" width="20" height="41"/><rect x="831" y="1460" width="20" height="41"/><rect x="851" y="1460" width="20" height="41"/></g>
<g fill="#c3d6e8"><rect x="871" y="1460" width="20" height="41"/><rect x="891" y="1460" width="20" height="41" fill="#cddce9"/><rect x="911" y="1460" width="20" height="41" fill="#bcd2e6"/><rect x="931" y="1460" width="20" height="41" fill="#c8d9e9"/><rect x="951" y="1460" width="20" height="41"/></g>
<g fill="#f7909a"><rect x="971" y="1460" width="21" height="41"/><rect x="992" y="1460" width="20" height="41"/><rect x="1012" y="1460" width="20" height="41"/><rect x="1032" y="1460" width="20" height="41"/><rect x="1052" y="1460" width="20" height="41"/><rect x="1072" y="1460" width="20" height="41"/><rect x="1092" y="1460" width="21" height="41"/></g>
<g fill="#f7848f"><rect x="751" y="1501" width="20" height="41"/><rect x="771" y="1501" width="20" height="41"/><rect x="791" y="1501" width="20" height="41"/><rect x="811" y="1501" width="20" height="41"/><rect x="831" y="1501" width="20" height="41"/><rect x="851" y="1501" width="20" height="41"/></g>
<g fill="#1268ad"><rect x="871" y="1501" width="20" height="41" fill="#0a62aa"/><rect x="891" y="1501" width="20" height="41"/><rect x="911" y="1501" width="20" height="41" fill="#1a70b3"/><rect x="931" y="1501" width="20" height="41"/><rect x="951" y="1501" width="20" height="41"/><rect x="971" y="1501" width="21" height="41" fill="#1a70b3"/></g>
<g fill="#f7909a"><rect x="992" y="1501" width="20" height="41" fill="#f7848f"/><rect x="1012" y="1501" width="20" height="41"/><rect x="1032" y="1501" width="20" height="41" fill="#f8a2aa"/><rect x="1052" y="1501" width="20" height="41"/><rect x="1072" y="1501" width="20" height="41"/><rect x="1092" y="1501" width="21" height="41" fill="#f7848f"/></g>
<g fill="#f7888f"><rect x="751" y="1542" width="20" height="41"/><rect x="771" y="1542" width="20" height="41"/><rect x="791" y="1542" width="20" height="41"/><rect x="811" y="1542" width="20" height="41"/><rect x="831" y="1542" width="20" height="41"/><rect x="851" y="1542" width="20" height="41"/></g>
<g fill="#f8bcc3"><rect x="871" y="1542" width="20" height="41"/><rect x="891" y="1542" width="20" height="41"/><rect x="911" y="1542" width="20" height="41" fill="#fac8cd"/><rect x="931" y="1542" width="20" height="41" fill="#fbd2d6"/><rect x="951" y="1542" width="20" height="41" fill="#fcdde0"/><rect x="971" y="1542" width="21" height="41"/></g>
<g fill="#f7848f"><rect x="992" y="1542" width="20" height="41"/><rect x="1012" y="1542" width="20" height="41" fill="#f8929b"/><rect x="1032" y="1542" width="20" height="41" fill="#ff3a4c"/><rect x="1052" y="1542" width="20" height="41"/><rect x="1072" y="1542" width="20" height="41" fill="#f8929b"/><rect x="1092" y="1542" width="21" height="41"/></g>
</g>
<rect x="751" y="1419" width="362" height="164" fill="none" stroke="#111" stroke-width="1.5"/>
<g font-size="13" text-anchor="end"><text x="744" y="1452">PPP1R10</text><text x="744" y="1494">PPP1R3G</text><text x="744" y="1534">PPP1R10</text><text x="744" y="1575">PPP1R3G</text></g>
<line x1="667" y1="1440" x2="667" y2="1490" stroke="#222"/><line x1="667" y1="1500" x2="667" y2="1572" stroke="#222"/>
<g font-size="13" text-anchor="middle"><text transform="translate(662,1466) rotate(-90)">HSC-3</text><text transform="translate(662,1538) rotate(-90)">SCC25</text></g>
<rect x="1130" y="1383" width="15" height="188" fill="url(#cbar)"/>
<g font-size="13"><text x="1152" y="1424">1.0</text><text x="1152" y="1507">0.5</text></g>
<text transform="translate(1174,1465) rotate(90)" font-size="13" text-anchor="middle">Expression</text>

<!-- ===== G ===== -->
<text x="6" y="1652" font-size="22">G</text>
<text x="191" y="1683" font-size="13" text-anchor="middle">HSC-3-RT(6Gy)</text>
<text x="423" y="1683" font-size="13" text-anchor="middle">SCC25-RT(6Gy)</text>
<line x1="96" y1="1692" x2="286" y2="1692" stroke="#333" stroke-width="1.3"/><line x1="328" y1="1692" x2="518" y2="1692" stroke="#333" stroke-width="1.3"/>
<g font-size="12" text-anchor="start">
<text transform="translate(92,1787) rotate(-50)">Scramble</text><text transform="translate(130,1787) rotate(-50)">sh-hnRNPA1</text><text transform="translate(180,1787) rotate(-50)">sh-hnRNPA1+M-L</text><text transform="translate(227,1787) rotate(-50)">sh-hnRNPA1+M-S</text>
<text transform="translate(324,1787) rotate(-50)">Scramble</text><text transform="translate(362,1787) rotate(-50)">sh-hnRNPA1</text><text transform="translate(412,1787) rotate(-50)">sh-hnRNPA1+M-L</text><text transform="translate(459,1787) rotate(-50)">sh-hnRNPA1+M-S</text></g>
<g font-size="13" text-anchor="middle">
<text x="104" y="1803">1.00</text><text x="152" y="1803">2.15</text><text x="204" y="1803">0.98</text><text x="255" y="1803">1.94</text><text x="332" y="1803">1.00</text><text x="382" y="1803">1.74</text><text x="434" y="1803">0.70</text><text x="484" y="1803">2.46</text>
<text x="104" y="1874">1.00</text><text x="152" y="1874">1.16</text><text x="204" y="1874">1.26</text><text x="255" y="1874">1.27</text><text x="332" y="1874">1.00</text><text x="382" y="1874">0.90</text><text x="434" y="1874">0.95</text><text x="484" y="1874">0.98</text>
<text x="104" y="1945">1.00</text><text x="152" y="1945">0.43</text><text x="204" y="1945">1.25</text><text x="255" y="1945">0.22</text><text x="332" y="1945">1.00</text><text x="382" y="1945">0.37</text><text x="434" y="1945">1.15</text><text x="484" y="1945">0.51</text></g>
<g stroke="#222" stroke-width="1.5">
<rect x="78" y="1805" width="208" height="51" fill="#9a9a9a"/><rect x="306" y="1805" width="207" height="51" fill="#d0d0d0"/>
<rect x="78" y="1875" width="208" height="51" fill="#d2d2d2"/><rect x="306" y="1875" width="207" height="51" fill="#c8c8c8"/>
<rect x="78" y="1945" width="208" height="51" fill="#cfcfcf"/><rect x="306" y="1945" width="207" height="51" fill="#c8c8c8"/>
<rect x="78" y="2006" width="208" height="51" fill="#d8d8d8"/><rect x="306" y="2006" width="207" height="51" fill="#d4d4d4"/></g>
<g fill="#111">
<ellipse cx="104" cy="1830" rx="20" ry="6" fill="#555"/><ellipse cx="153" cy="1830" rx="22" ry="9" fill="#151515"/><ellipse cx="204" cy="1831" rx="17" ry="5" fill="#6a6a6a"/><ellipse cx="254" cy="1830" rx="19" ry="7" fill="#333"/>
<ellipse cx="333" cy="1831" rx="18" ry="4"/><ellipse cx="384" cy="1830" rx="22" ry="7"/><ellipse cx="434" cy="1831" rx="14" ry="4"/><ellipse cx="485" cy="1830" rx="23" ry="8"/>
<ellipse cx="104" cy="1900" rx="21" ry="7"/><ellipse cx="153" cy="1900" rx="22" ry="8"/><ellipse cx="204" cy="1900" rx="21" ry="8"/><ellipse cx="254" cy="1900" rx="22" ry="9"/>
<ellipse cx="333" cy="1901" rx="18" ry="5" fill="#333"/><ellipse cx="383" cy="1902" rx="19" ry="5" fill="#444"/><ellipse cx="434" cy="1902" rx="18" ry="5" fill="#333"/><ellipse cx="486" cy="1901" rx="10" ry="5" fill="#333"/>
<ellipse cx="104" cy="1971" rx="24" ry="11"/><ellipse cx="152" cy="1972" rx="14" ry="5" fill="#555"/><ellipse cx="205" cy="1971" rx="25" ry="11"/><ellipse cx="256" cy="1972" rx="10" ry="4" fill="#aaa"/>
<ellipse cx="333" cy="1971" rx="20" ry="8"/><ellipse cx="383" cy="1972" rx="15" ry="5" fill="#444"/><ellipse cx="435" cy="1970" rx="23" ry="10"/><ellipse cx="486" cy="1971" rx="16" ry="5" fill="#444"/>
<ellipse cx="104" cy="2033" rx="23" ry="9"/><ellipse cx="152" cy="2032" rx="20" ry="8"/><ellipse cx="203" cy="2033" rx="18" ry="7"/><ellipse cx="255" cy="2033" rx="21" ry="9"/>
<ellipse cx="333" cy="2033" rx="23" ry="10"/><ellipse cx="384" cy="2033" rx="25" ry="12"/><ellipse cx="434" cy="2033" rx="21" ry="10"/><ellipse cx="485" cy="2030" rx="23" ry="9"/></g>
<g font-size="13.5" text-anchor="end"><text x="71" y="1836">PPP1R10</text><text x="71" y="1907">Chk1</text><text x="71" y="1973">p-Chk1</text><text x="71" y="1992">(S345)</text><text x="71" y="2037">GAPDH</text></g>
<g font-size="13.5"><text x="514" y="1837">-99kDa</text><text x="514" y="1905">-55kDa</text><text x="514" y="1976">-55kDa</text><text x="514" y="2037">-36kDa</text></g>

<!-- ===== H ===== -->
<text x="560" y="1652" font-size="22">H</text>
<line x1="891" y1="1616" x2="891" y2="2108" stroke="#333" stroke-width="2.5" stroke-dasharray="10,8"/>
<rect x="586" y="1745" width="304" height="362" fill="#dbe8f6"/>
<rect x="893" y="1745" width="304" height="362" fill="#f8dcdc"/>
<rect x="586" y="1745" width="304" height="4" fill="#a8bccb"/><rect x="586" y="1755" width="304" height="3" fill="#a8bccb"/><rect x="586" y="1749" width="304" height="6" fill="#dcecf8"/>
<rect x="893" y="1745" width="304" height="4" fill="#d8b0b4"/><rect x="893" y="1755" width="304" height="3" fill="#d8b0b4"/><rect x="893" y="1749" width="304" height="6" fill="#fbe2e2"/>
<g transform="translate(668,1687)">
<ellipse rx="36" ry="51" fill="#f2b3a8" stroke="#e8968c"/><ellipse rx="29" ry="41" fill="#fff"/><ellipse rx="25" ry="35" fill="#d85a50"/><path d="M-22,-12Q0,-38 22,-12L22,10H-22Z" fill="#a8141c"/><ellipse cy="14" rx="20" ry="14" fill="#f5a0a0"/><circle cy="14" r="10" fill="#c05048"/>
</g>
<g transform="translate(985,1687)">
<ellipse rx="36" ry="51" fill="#f2b3a8" stroke="#e8968c"/><ellipse rx="29" ry="41" fill="#fff"/><ellipse rx="25" ry="35" fill="#d85a50"/><path d="M-22,-12Q0,-38 22,-12L22,10H-22Z" fill="#a8141c"/><ellipse cy="14" rx="20" ry="14" fill="#f5a0a0"/><circle cy="14" r="10" fill="#c05048"/>
</g>
<path d="M610,1622L620,1640L624,1634L632,1652L627,1636L623,1642Z" fill="#f08a18" stroke="#f08a18" stroke-width="2"/>
<path d="M923,1622L933,1640L937,1634L945,1652L940,1636L936,1642Z" fill="#f08a18" stroke="#f08a18" stroke-width="2"/>
<g font-size="12.5" font-weight="bold"><text x="726" y="1690" fill="#666">Increased DNA repair</text><text x="726" y="1709" fill="#666">Radioresistance</text><text x="1042" y="1690" fill="#a52a30">Decreased DNA repair</text><text x="1042" y="1709" fill="#a52a30">Radiosensitivity</text></g>

<g font-size="11" text-anchor="middle">
<ellipse cx="693" cy="1787" rx="34" ry="15" fill="#ddd6f0" stroke="#3a2a5a" stroke-width="2.5"/><text x="693" y="1791">Chk1</text>
<ellipse cx="792" cy="1787" rx="34" ry="15" fill="#ddd6f0" stroke="#3a2a5a" stroke-width="2.5"/><text x="792" y="1791">p-Chk1</text>
<path d="M728,1785H752" stroke="#2a3f6a" stroke-width="2"/><path d="M752,1781L759,1785L752,1789Z" fill="#2a3f6a"/>
<text x="835" y="1776" font-size="10">S345</text><circle cx="822" cy="1777" r="1.5" fill="#222"/>
<path d="M748,1791L789,1823" stroke="#7a4ab0" stroke-width="2" stroke-dasharray="6,4"/>
<path d="M863,1800V1775" stroke="#a83030" stroke-width="2"/><path d="M858,1778L863,1770L868,1778Z" fill="#a83030"/>
<ellipse cx="691" cy="1850" rx="38" ry="17" fill="#e8f0fa" stroke="#8fa8d0" stroke-width="2"/><text x="691" y="1854">PPP1R10</text>
<ellipse cx="807" cy="1850" rx="33" ry="17" fill="#e8f0fa" stroke="#8fa8d0" stroke-width="2"/><text x="807" y="1854">PP1</text>
<path d="M744,1850H763" stroke="#2a3f6a" stroke-width="2.5"/><path d="M763,1846L770,1850L763,1854Z" fill="#2a3f6a"/>
<path d="M733,1827V1855M846,1827V1855" stroke="#a83030" stroke-width="2"/><path d="M728,1852L733,1862L738,1852ZM841,1852L846,1862L851,1852Z" fill="#a83030"/>
<path d="M691,1920V1875M685,1875H697" stroke="#2a3f6a" stroke-width="2.5"/>
<rect x="646" y="1920" width="33" height="23" fill="#9b7ad8" stroke="#6a3aa8" stroke-width="2"/><rect x="679" y="1920" width="32" height="23" fill="#4a2a88" stroke="#3a1a70" stroke-width="2"/><rect x="711" y="1920" width="33" height="23" fill="#e85a80" stroke="#a83050" stroke-width="2"/>
<text x="662" y="1936" font-size="13">7</text><text x="695" y="1936" font-size="13">8</text><text x="727" y="1936" font-size="13">9</text>
<text x="617" y="1936" font-size="11">MARF1-L</text>
<rect x="772" y="1947" width="30" height="22" fill="#9b7ad8" stroke="#6a3aa8" stroke-width="2"/><rect x="802" y="1947" width="32" height="22" fill="#e85a80" stroke="#a83050" stroke-width="2"/>
<text x="787" y="1963" font-size="13">7</text><text x="818" y="1963" font-size="13">9</text>
<text x="741" y="1963" font-size="11">MARF1-S</text>
<path d="M692,2006V1952" stroke="#2a3f6a" stroke-width="2.5"/><path d="M687,1953L692,1945L697,1953Z" fill="#2a3f6a"/>
<path d="M694,1994H799V1978" stroke="#2a3f6a" stroke-width="2.5" stroke-dasharray="7,5" fill="none"/><path d="M795,1980L799,1972L803,1980Z" fill="#2a3f6a"/>
<text x="679" y="1979" font-size="18" fill="#e02020" font-weight="bold">+</text>
<rect x="740" y="1986" width="11" height="3" fill="#2a3f6a"/>
<path d="M610,2022Q650,2040 690,2026T820,2022" stroke="#c060b0" stroke-width="2" fill="none"/>
<text x="600" y="2032" font-size="11">5'</text><text x="824" y="2032" font-size="11">3'</text>
<ellipse cx="682" cy="2030" rx="17" ry="14" fill="#9fb6e8"/><ellipse cx="700" cy="2030" rx="13" ry="14" fill="#8a5a9a"/>
<path d="M708,2033H730" stroke="#111" stroke-width="2"/><text x="750" y="2037" font-size="11">SF3B3</text>
<ellipse cx="681" cy="2082" rx="16" ry="15" fill="#9fb6e8"/><path d="M684,2082H704" stroke="#111" stroke-width="2"/><text x="728" y="2086" font-size="11">hnRNPA1</text>
<path d="M764,2104V2072" stroke="#a83030" stroke-width="2"/><path d="M759,2075L764,2065L769,2075Z" fill="#a83030"/>
</g>

<g font-size="11" text-anchor="middle">
<ellipse cx="1010" cy="1787" rx="34" ry="15" fill="#ddd6f0" stroke="#3a2a5a" stroke-width="2.5"/><text x="1010" y="1791">Chk1</text>
<ellipse cx="1109" cy="1787" rx="34" ry="15" fill="#ddd6f0" stroke="#3a2a5a" stroke-width="2.5"/><text x="1109" y="1791">p-Chk1</text>
<path d="M1045,1785H1069" stroke="#2a3f6a" stroke-width="2"/><path d="M1069,1781L1076,1785L1069,1789Z" fill="#2a3f6a"/>
<text x="1152" y="1776" font-size="10">S345</text><circle cx="1139" cy="1777" r="1.5" fill="#222"/>
<path d="M1107,1826L1075,1804" stroke="#7a4ab0" stroke-width="2.5"/><path d="M1080,1800L1070,1800L1075,1808Z" fill="#7a4ab0"/>
<path d="M1180,1775V1800" stroke="#a83030" stroke-width="2"/><path d="M1175,1797L1180,1805L1185,1797Z" fill="#a83030"/>
<ellipse cx="1008" cy="1850" rx="38" ry="17" fill="#e8f0fa" stroke="#8fa8d0" stroke-width="2"/><text x="1008" y="1854">PPP1R10</text>
<ellipse cx="1124" cy="1850" rx="33" ry="17" fill="#e8f0fa" stroke="#8fa8d0" stroke-width="2"/><text x="1124" y="1854">PP1</text>
<path d="M1061,1850H1080" stroke="#2a3f6a" stroke-width="2.5"/><path d="M1080,1846L1087,1850L1080,1854Z" fill="#2a3f6a"/>
<path d="M1050,1835V1862M1166,1833V1862" stroke="#a83030" stroke-width="2"/><path d="M1045,1838L1050,1828L1055,1838ZM1161,1836L1166,1826L1171,1836Z" fill="#a83030"/>
<path d="M1008,1918V1875M1002,1875H1014" stroke="#2a3f6a" stroke-width="2.5"/>
<path d="M1002,1885L1013,1897M1013,1885L1002,1897" stroke="#d83030" stroke-width="3"/>
<rect x="963" y="1918" width="33" height="23" fill="#9b7ad8" stroke="#6a3aa8" stroke-width="2"/><rect x="996" y="1918" width="32" height="23" fill="#4a2a88" stroke="#3a1a70" stroke-width="2"/><rect x="1028" y="1918" width="33" height="23" fill="#e85a80" stroke="#a83050" stroke-width="2"/>
<text x="979" y="1934" font-size="13">7</text><text x="1012" y="1934" font-size="13">8</text><text x="1044" y="1934" font-size="13">9</text>
<text x="935" y="1934" font-size="11">MARF1-L</text>
<rect x="1094" y="1945" width="30" height="22" fill="#9b7ad8" stroke="#6a3aa8" stroke-width="2"/><rect x="1124" y="1945" width="32" height="22" fill="#e85a80" stroke="#a83050" stroke-width="2"/>
<text x="1109" y="1961" font-size="13">7</text><text x="1140" y="1961" font-size="13">9</text>
<text x="1062" y="1961" font-size="11">MARF1-S</text>
<path d="M1014,2006V1950" stroke="#2a3f6a" stroke-width="2.5" stroke-dasharray="7,5"/><path d="M1009,1952L1014,1944L1019,1952Z" fill="#2a3f6a"/>
<path d="M1016,1992H1123V1976" stroke="#2a3f6a" stroke-width="2.5" fill="none"/><path d="M1119,1978L1123,1970L1127,1978Z" fill="#2a3f6a"/>
<rect x="1015" y="1985" width="10" height="14" fill="#2a3f6a"/>
<rect x="994" y="1973" width="10" height="3" fill="#2a3f6a"/>
<text x="1070" y="1991" font-size="18" fill="#e02020" font-weight="bold">+</text>
<path d="M927,2022Q967,2040 1007,2026T1137,2022" stroke="#c060b0" stroke-width="2" fill="none"/>
<text x="917" y="2032" font-size="11">5'</text><text x="1141" y="2032" font-size="11">3'</text>
<ellipse cx="999" cy="2030" rx="17" ry="14" fill="#9fb6e8"/><ellipse cx="1017" cy="2030" rx="13" ry="14" fill="#8a5a9a"/>
<path d="M1025,2033H1047" stroke="#111" stroke-width="2"/><text x="1067" y="2037" font-size="11">SF3B3</text>
<ellipse cx="998" cy="2082" rx="16" ry="15" fill="#9fb6e8"/><path d="M1001,2082H1021" stroke="#111" stroke-width="2"/><text x="1045" y="2086" font-size="11">hnRNPA1</text>
<path d="M1083,2068V2095" stroke="#a83030" stroke-width="2"/><path d="M1078,2092L1083,2101L1088,2092Z" fill="#a83030"/>
</g>
</svg>
</body></html>
